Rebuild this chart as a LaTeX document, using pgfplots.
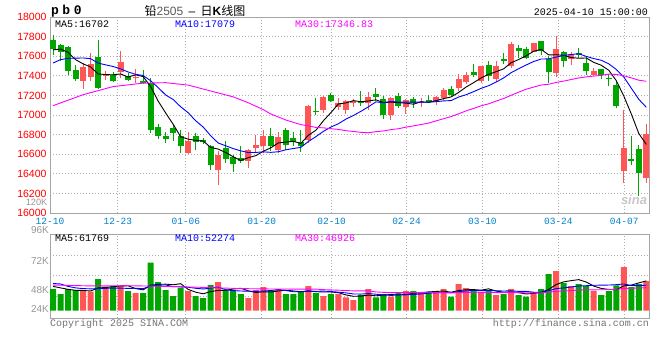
\documentclass[border=0pt]{standalone}
\usepackage{fontspec}
\setmainfont{Liberation Sans}
\newfontfamily\mono{Liberation Mono}
\newfontfamily\cjk{Noto Sans CJK SC}
\usepackage{pgfplots}
\pgfplotsset{compat=1.18}
\usepackage{pgfplotstable}
\definecolor{cred}{RGB}{255,85,85}
\definecolor{cgreen}{RGB}{0,165,0}
\definecolor{cblue}{RGB}{0,0,255}
\definecolor{cmag}{RGB}{255,0,255}
\definecolor{cdate}{RGB}{0,128,204}
\definecolor{cgrid}{RGB}{175,175,175}
\definecolor{cframe}{RGB}{165,165,165}
\definecolor{ctxt}{RGB}{150,150,150}

\pgfplotstableread{
i o h l c
4 17343 17529 17265 17489
5 17387 17631 17350 17519
7 17397 17444 17353 17417
9 17434 17648 17380 17536
11 17373 17468 17326 17390
18 16612 16823 16605 16731
22 16435 16629 16289 16595
26 16527 16653 16459 16646
27 16667 16793 16612 16691
28 16680 16844 16612 16782
30 16640 16823 16612 16775
34 16742 17102 16714 17095
36 17054 17190 17020 17180
38 17081 17173 17047 17122
39 17054 17150 17014 17146
40 17122 17166 17081 17146
42 17122 17237 17054 17180
45 17003 17183 16952 17173
47 17081 17160 17014 17156
49 17122 17173 17081 17136
51 17129 17190 17105 17183
52 17173 17275 17156 17258
54 17275 17417 17241 17366
55 17332 17437 17320 17410
57 17349 17505 17330 17495
59 17369 17546 17332 17502
61 17495 17749 17480 17722
64 17647 17739 17640 17732
67 17427 17807 17383 17671
69 17570 17644 17512 17620
72 17410 17475 17393 17444
76 16424 17054 16305 16664
79 16359 16908 16308 16807
}\redK

\pgfplotstableread{
i o h l c
0 17767 17818 17614 17672
1 17716 17720 17553 17638
2 17689 17706 17411 17444
3 17461 17512 17343 17366
6 17590 17767 17265 17275
8 17410 17434 17340 17349
10 17400 17427 17346 17360
12 17346 17455 17320 17326
13 17326 17377 16817 16843
14 16878 16912 16755 16789
15 16789 16823 16714 16755
16 16871 16905 16731 16816
17 16782 16844 16612 16680
19 16789 16816 16646 16721
20 16748 16769 16700 16721
21 16680 16697 16442 16493
23 16663 16731 16510 16555
24 16568 16595 16415 16504
25 16561 16680 16510 16527
29 16782 16871 16629 16680
31 16850 16867 16646 16691
32 16769 16823 16680 16725
33 16721 16844 16619 16680
35 17044 17170 17003 17027
37 17207 17220 17130 17139
41 17146 17241 17095 17122
43 17214 17275 17139 17180
44 17163 17190 16959 17003
46 17197 17224 17071 17095
48 17166 17183 17071 17122
50 17153 17207 17122 17136
53 17264 17292 17190 17207
56 17437 17522 17390 17410
58 17512 17546 17342 17393
60 17570 17637 17519 17553
62 17681 17715 17586 17658
63 17678 17698 17570 17586
65 17753 17756 17610 17654
66 17576 17603 17325 17434
68 17644 17650 17485 17553
70 17630 17681 17586 17617
71 17529 17597 17407 17451
73 17468 17470 17366 17410
74 17376 17417 17298 17363
75 17305 17349 17068 17088
77 16553 16783 16485 16532
78 16654 16695 16173 16410
}\greenK

\pgfplotstableread{
i ma5 ma10
0 17665 17530
1 17672 17565
2 17640 17578
3 17565 17580
4 17522 17582
5 17491 17575
6 17419 17530
7 17413 17512
8 17410 17495
9 17419 17471
10 17387 17439
11 17410 17415
12 17392 17403
13 17291 17350
14 17142 17280
15 17021 17204
16 16906 17158
17 16777 17084
18 16754 17023
19 16741 16941
20 16734 16877
21 16669 16788
22 16652 16714
23 16617 16686
24 16574 16657
25 16535 16634
26 16565 16617
27 16585 16618
28 16630 16624
29 16665 16619
30 16715 16625
31 16724 16645
32 16731 16658
33 16710 16670
34 16793 16729
35 16844 16779
36 16941 16833
37 17024 16877
38 17113 16911
39 17123 16958
40 17147 16995
41 17135 17038
42 17143 17084
43 17155 17134
44 17126 17125
45 17132 17139
46 17126 17131
47 17121 17132
48 17110 17132
49 17136 17131
50 17129 17130
51 17147 17136
52 17167 17144
53 17184 17147
54 17230 17183
55 17285 17207
56 17330 17238
57 17378 17272
58 17415 17299
59 17442 17336
60 17471 17378
61 17533 17432
62 17566 17472
63 17604 17510
64 17650 17546
65 17670 17571
66 17613 17573
67 17615 17591
68 17609 17607
69 17586 17618
70 17579 17625
71 17582 17598
72 17537 17576
73 17508 17559
74 17457 17522
75 17351 17465
76 17194 17388
77 17011 17274
78 16811 17160
79 16700 17079
}\maK

\pgfplotstableread{
i ma30
0 17095
4 17207
8 17290
12 17325
15 17330
18 17305
21 17245
24 17185
26 17125
28 17055
29 17010
30 16980
31 16949
32 16925
33 16902
34 16889
35 16873
36 16869
37 16860
38 16853
39 16840
40 16832
41 16823
42 16819
43 16830
44 16837
45 16851
46 16860
47 16876
48 16889
49 16903
50 16917
51 16940
52 16962
53 16984
54 17012
55 17042
56 17067
57 17094
58 17114
59 17142
60 17168
61 17202
62 17233
63 17263
64 17285
65 17306
66 17314
67 17332
68 17346
69 17362
70 17378
71 17389
72 17397
73 17405
74 17417
75 17414
76 17400
77 17379
78 17355
79 17344
}\maKthirty

\pgfplotstableread{
i v
4 42530
5 39100
7 49390
9 50760
11 36360
18 40470
22 59000
26 26070
27 42530
28 48700
30 44590
34 50760
36 30180
38 34300
39 27440
40 21950
42 44590
45 28810
47 40470
49 38420
51 40470
52 44590
54 54880
55 46650
57 38420
59 32240
61 44590
64 38420
67 81630
69 50760
72 40470
76 89870
79 61050
}\redV

\pgfplotstableread{
i v
0 44590
1 34300
2 44590
3 42530
6 65170
8 50760
10 40470
12 36360
13 98780
14 59000
15 42530
16 30180
17 47330
19 30180
20 26070
21 52820
23 42530
24 42530
25 34300
29 41160
31 34300
32 34300
33 40470
35 36360
37 34300
41 32240
43 27440
44 34300
46 35670
48 40470
50 38420
53 28810
56 42530
58 42530
60 34300
62 32240
63 28810
65 44590
66 75460
68 56940
70 54880
71 50760
73 32240
74 40470
75 52140
77 48710
78 54880
}\greenV

\pgfplotstableread{
i ma5 ma10
0 50000 56000
1 47000 55000
2 44000 50000
3 42000 47000
4 41710 45500
5 40610 45000
6 46790 45500
7 47750 46000
8 49390 46500
9 51040 46370
10 51310 45960
11 45550 46170
12 42940 45350
13 52550 50970
14 54190 52620
15 54610 52960
16 53370 49460
17 55570 49260
18 43900 48230
19 38140 46170
20 34850 44730
21 39380 46370
22 41710 48640
23 42120 43010
24 44590 41370
25 46240 40540
26 40890 40130
27 37590 39650
28 38830 40470
29 38550 41570
30 40610 43420
31 42260 41570
32 40610 39100
33 38970 38900
34 40890 39720
35 39240 39930
36 38420 40340
37 38420 39510
38 37180 38070
39 32520 36700
40 29640 34440
41 30050 34230
42 32110 35260
43 30730 33960
44 32110 32310
45 33480 31560
46 34160 32110
47 33340 32720
48 35950 33340
49 36770 34440
50 38690 36080
51 39650 36910
52 40470 36910
53 38140 37040
54 41430 39100
55 43080 40890
56 43490 41570
57 42260 41370
58 45000 41570
59 40470 40950
60 38000 40540
61 38420 40950
62 37180 39720
63 34440 39720
64 35670 38070
65 37730 37870
66 43900 41160
67 53780 45480
68 59410 46920
69 61880 48780
70 63940 50830
71 59000 51450
72 50760 52270
73 45830 52620
74 43770 52820
75 43220 53580
76 51040 55020
77 52690 51720
78 57210 51520
79 61330 52550
}\maV

\pgfplotstableread{
i ma30
0 52800
5 51000
10 51500
15 50000
20 48000
25 45500
29 44700
30 44700
31 44700
32 44360
33 44290
34 44570
35 44480
36 43310
37 42810
38 42260
39 41480
40 40860
41 40730
42 41000
43 38620
44 37800
45 37340
46 37530
47 37300
48 37300
49 37570
50 37980
51 37570
52 37090
53 36630
54 37040
55 37460
56 38010
57 37870
58 37660
59 37370
60 37020
61 37370
62 37300
63 36910
64 36500
65 36770
66 38280
67 39860
68 40610
69 41390
70 42490
71 43100
72 42970
73 43130
74 43330
75 44110
76 45920
77 46190
78 46670
79 47430
}\maVthirty

\pgfplotsset{
  sinagrid/.style={
    scale only axis, width=599pt,
    xmin=-0.4, xmax=79.36,
    scaled x ticks=false, scaled y ticks=false,
    axis line style={cframe, line width=1pt},
    major tick length=0pt,
    grid=major,
    grid style={cgrid, line width=0.8pt, dash pattern=on 1pt off 2pt},
  },
  wick/.style={draw=none, mark=none, forget plot,
    error bars/.cd, y dir=minus, y explicit, error mark=none,
    error bar style={draw=#1, line width=1pt, solid}},
  body/.style={draw=none, mark=none, forget plot,
    error bars/.cd, y dir=plus, y explicit, error mark=none,
    error bar style={draw=#1, line width=6pt, solid}},
}

\begin{document}
\begin{tikzpicture}[x=1pt,y=1pt]
\path[use as bounding box] (0,0) rectangle (660,360);

% ---------- price panel ----------
\begin{axis}[sinagrid,
  at={(50pt,147pt)}, anchor=south west, height=196pt,
  ymin=16000, ymax=18000,
  xtick={-0.4,8.64,17.69,27.79,37.1,47.07,57.18,67.29,76.06},
  xticklabels={12-10,12-23,01-06,01-20,02-10,02-24,03-10,03-24,04-07},
  ytick={16000,16200,16400,16600,16800,17000,17200,17400,17600,17800,18000},
  yticklabels={16000,16200,16400,16600,16800,17000,17200,17400,17600,17800,18000},
  xticklabel style={font=\mono\fontsize{9.5}{10}\selectfont, text=cdate, anchor=north, inner sep=0pt, text height=6.5pt, text depth=0pt, yshift=-4.6pt},
  yticklabel style={font=\fontsize{10.5}{11}\selectfont, text=red, anchor=east, inner sep=0pt, text height=7.2pt, text depth=0pt, xshift=-3.3pt},
]
\addplot[wick=cred] table[x=i, y=h, y error expr=\thisrow{h}-\thisrow{l}] {\redK};
\addplot[wick=cgreen] table[x=i, y=h, y error expr=\thisrow{h}-\thisrow{l}] {\greenK};
\addplot[body=cred] table[x=i, y=o, y error expr=\thisrow{c}-\thisrow{o}] {\redK};
\addplot[body=cgreen] table[x=i, y=c, y error expr=\thisrow{o}-\thisrow{c}] {\greenK};
\addplot[black, line width=0.9pt, mark=none] table[x=i, y=ma5] {\maK};
\addplot[cblue, line width=0.9pt, mark=none] table[x=i, y=ma10] {\maK};
\addplot[cmag, line width=0.9pt, mark=none] table[x=i, y=ma30] {\maKthirty};
\end{axis}

% ---------- volume panel ----------
\begin{axis}[sinagrid,
  at={(50pt,42pt)}, anchor=south west, height=84pt,
  ymin=-15000, ymax=157800,
  xtick={8.64,17.69,27.79,37.1,47.07,57.18,67.29,76.06},
  xticklabels={},
  ytick={30250,72030,114630},
  yticklabels={},
]
\addplot[ybar, bar width=6pt, bar shift=0pt, fill=cred, draw=none, forget plot] table[x=i, y=v] {\redV};
\addplot[ybar, bar width=6pt, bar shift=0pt, fill=cgreen, draw=none, forget plot] table[x=i, y=v] {\greenV};
\addplot[black, line width=0.9pt, mark=none] table[x=i, y=ma5] {\maV};
\addplot[cblue, line width=0.9pt, mark=none] table[x=i, y=ma10] {\maV};
\addplot[cmag, line width=0.9pt, mark=none] table[x=i, y=ma30] {\maVthirty};
\end{axis}

% ---------- texts ----------
\node[anchor=west, inner sep=0pt] at (51,349) {\mono\fontsize{13}{13}\selectfont\bfseries p\kern3.5pt b\kern3.5pt 0};
\node[anchor=center, inner sep=0pt] at (195,349) {\fontsize{12}{13}\selectfont{\cjk 铅}{\color{black!65}2505} \,–\, {\cjk 日}\textbf{K}{\cjk 线图}};
\node[anchor=east, inner sep=0pt] at (648,348) {\mono\fontsize{10}{10}\selectfont 2025-04-10 15:00:00};

\node[anchor=west, inner sep=0pt] at (55,336) {\mono\fontsize{10}{10}\selectfont MA5:16702};
\node[anchor=west, inner sep=0pt, text=cblue] at (175,336) {\mono\fontsize{10}{10}\selectfont MA10:17079};
\node[anchor=west, inner sep=0pt, text=cmag] at (295,336) {\mono\fontsize{10}{10}\selectfont MA30:17346.83};

\node[anchor=west, inner sep=0pt] at (55,121.5) {\mono\fontsize{10}{10}\selectfont MA5:61769};
\node[anchor=west, inner sep=0pt, text=cblue] at (175,121.5) {\mono\fontsize{10}{10}\selectfont MA10:52274};
\node[anchor=west, inner sep=0pt, text=cmag] at (295,121.5) {\mono\fontsize{10}{10}\selectfont MA30:46926};

\node[anchor=east, inner sep=0pt, text height=6.3pt, text depth=0pt, text=ctxt] at (47.5,158) {\fontsize{9.2}{9.2}\selectfont 120K};
\node[anchor=east, inner sep=0pt, text height=6.8pt, text depth=0pt, text=ctxt] at (49,130) {\fontsize{10}{10}\selectfont 96K};
\node[anchor=east, inner sep=0pt, text=ctxt] at (49,99) {\fontsize{10}{10}\selectfont 72K};
\node[anchor=east, inner sep=0pt, text=ctxt] at (49,70) {\fontsize{10}{10}\selectfont 48K};
\node[anchor=east, inner sep=0pt, text=ctxt] at (49,50.5) {\fontsize{10}{10}\selectfont 24K};

\node[anchor=west, inner sep=0pt, text=black!55] at (50,36) {\mono\fontsize{10}{10}\selectfont Copyright 2025 SINA.COM};
\node[anchor=east, inner sep=0pt, text=black!55] at (649,36) {\mono\fontsize{10}{10}\selectfont http://finance.sina.com.cn};

\node[anchor=center, inner sep=0pt, text=black!22] at (634,160) {\fontsize{13}{13}\selectfont\bfseries\itshape sina};
\end{tikzpicture}
\end{document}
